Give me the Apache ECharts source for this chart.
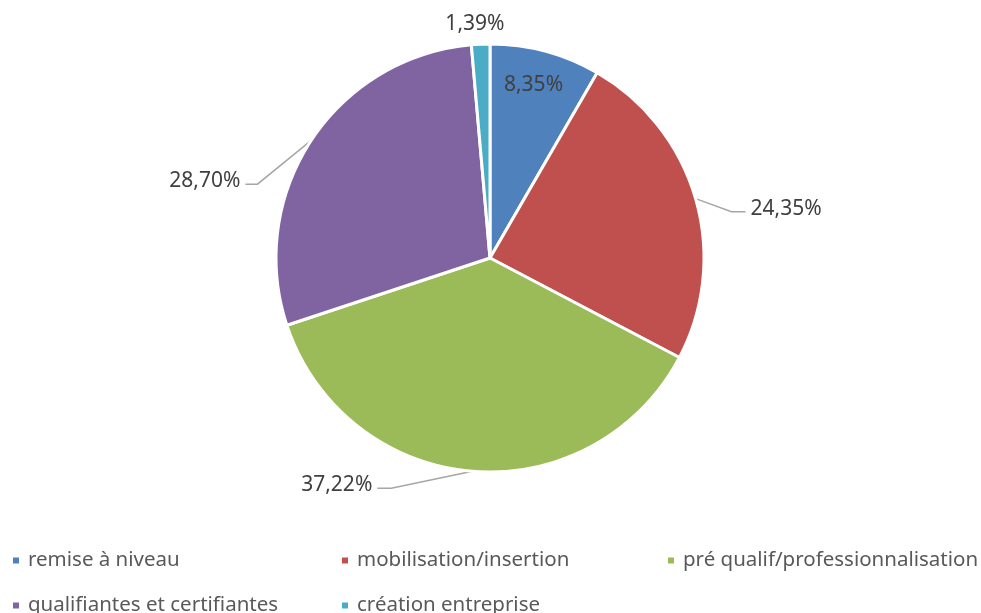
<!DOCTYPE html>
<html>
<head>
<meta charset="utf-8">
<script src="https://cdn.jsdelivr.net/npm/echarts@6/dist/echarts.min.js"></script>
<style>
  html, body { margin: 0; padding: 0; background: #fff; }
  #chart { width: 981px; height: 613px; }
</style>
</head>
<body>
<div id="chart"></div>
<script>
// categories and shares (%)
var categories = ['remise à niveau', 'mobilisation/insertion', 'pré qualif/professionnalisation',
  'qualifiantes et certifiantes', 'création entreprise'];
var values = [8.35, 24.35, 37.22, 28.70, 1.39];
var colors = ['#4F81BD', '#C0504D', '#9BBB59', '#8064A2', '#4BACC6'];

var FONT = '"Noto Sans", "Open Sans", sans-serif';

var myChart = echarts.init(document.getElementById('chart'));

function fmt(v) {
  return v.toFixed(2).replace('.', ',') + '%';
}

// label tweaks per slice (index order = categories)
var labelCfg = [
  {position: 'inside', offset: [15, -67]},
  {position: 'outside'},
  {position: 'outside'},
  {position: 'outside'},
  {position: 'outside'}
];
var lineCfg = [
  {show: false},
  {show: true, length: 28, length2: 14},
  {show: true, length: 14, length2: 14},
  {show: true, length: 44, length2: 12},
  {show: false, length: 4, length2: 0}
];
// nudges so labels sit where excel put them
var labelShift = [[0, 0], [9, 18], [-80, 0], [-17, 65], [29, -16]];

var seriesData = values.map(function (v, i) {
  return {
    name: categories[i],
    value: v,
    itemStyle: {color: colors[i]},
    label: labelCfg[i],
    labelLine: lineCfg[i]
  };
});

// one legend per item so the columns line up like the original
var legendPos = [[11, 550], [340, 550], [666, 550], [11, 595], [340, 595]];
var legends = categories.map(function (name, i) {
  return {
    left: legendPos[i][0], top: legendPos[i][1],
    padding: 0,
    itemWidth: 8, itemHeight: 8,
    icon: 'rect',
    selectedMode: false,
    textStyle: {fontFamily: FONT, fontSize: 20.5, color: '#595959', padding: [0, 0, 0, 3]},
    data: [name]
  };
});

var option = {
  animation: false,
  legend: legends,
  series: [{
    type: 'pie',
    center: [490, 258],
    radius: 214,
    startAngle: 90,
    clockwise: true,
    avoidLabelOverlap: false,
    itemStyle: {borderColor: '#fff', borderWidth: 3},
    label: {
      fontFamily: FONT, fontSize: 21, color: '#404040',
      formatter: function (p) { return fmt(p.value); }
    },
    labelLine: {lineStyle: {color: '#A6A6A6', width: 1.5}, smooth: false},
    labelLayout: function (p) {
      var s = labelShift[p.dataIndex];
      var res = {dx: s[0], dy: s[1]};
      var pts = p.labelLinePoints;
      if (pts && pts.length === 3) {
        // keep the anchor on the slice, drag the elbow along with the label
        res.labelLinePoints = [
          pts[0],
          [pts[1][0] + s[0], pts[1][1] + s[1] + 3],
          [pts[2][0] + s[0], pts[2][1] + s[1] + 3]
        ];
      }
      return res;
    },
    data: seriesData
  }]
};

myChart.setOption(option);
</script>
</body>
</html>
